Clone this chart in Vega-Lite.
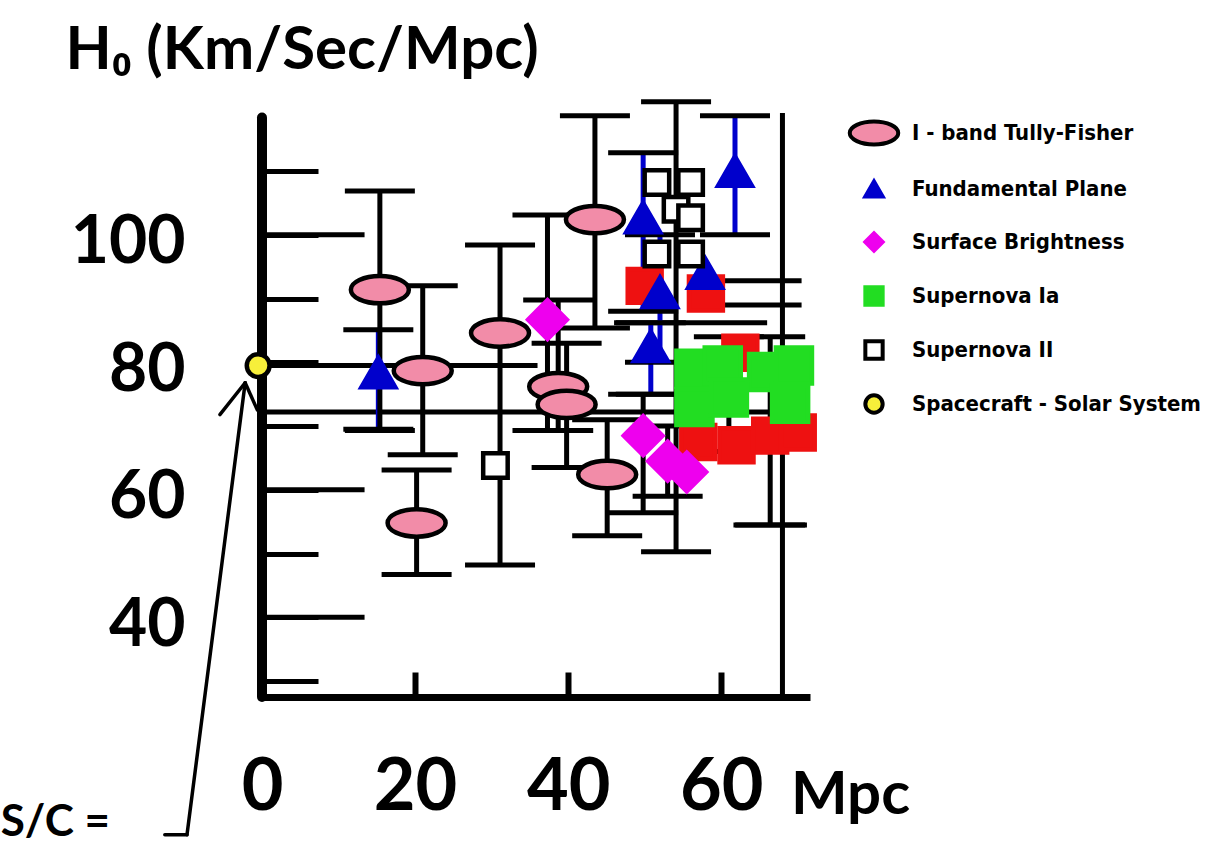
{
  "$schema": "https://vega.github.io/schema/vega-lite/v6.json",
  "width": 548,
  "height": 596,
  "autosize": {"type": "none"},
  "padding": {"left": 262, "top": 101, "right": 399, "bottom": 151},
  "background": "white",
  "config": {"view": {"stroke": null}},
  "datasets": {
    "segs": [
      {"x": 0, "x2": 13.4, "y": 40, "y2": 40},
      {"x": 0, "x2": 13.4, "y": 60, "y2": 60},
      {"x": 0, "x2": 13.4, "y": 100, "y2": 100},
      {"x": 0, "x2": 36, "y": 79.5, "y2": 79.5},
      {"x": 0, "x2": 71.6, "y": 72.2, "y2": 72.2},
      {"x": 59, "x2": 70.5, "y": 92.8, "y2": 92.8},
      {"x": 58, "x2": 70.5, "y": 89.0, "y2": 89.0},
      {"x": 46, "x2": 66, "y": 86.2, "y2": 86.2},
      {"x": 61.6, "x2": 71.2, "y": 54.5, "y2": 54.5},
      {"x": 68, "x2": 68, "y": 27.5, "y2": 119.1}
    ],
    "axisline": [
      {"x": 0, "x2": 0, "y": 27.5, "y2": 118.4}
    ],
    "arrow": [
      {"x": -12.7, "x2": -9.8, "y": 5.9, "y2": 5.9},
      {"x": -9.8, "x2": -2.2, "y": 5.9, "y2": 76.8},
      {"x": -2.2, "x2": -5.5, "y": 76.8, "y2": 71.8},
      {"x": -2.2, "x2": -0.6, "y": 76.8, "y2": 72.5}
    ],
    "notes": [
      {"x": -27, "y": 7.8, "label": "S/C ="}
    ],
    "points": [
      {"series": "Other", "x": 50.0, "y": 92.0},
      {"series": "Other", "x": 58.0, "y": 90.8},
      {"series": "Other", "x": 62.5, "y": 81.5},
      {"series": "Other", "x": 57.0, "y": 67.5},
      {"series": "Other", "x": 62.0, "y": 67.0},
      {"series": "Other", "x": 66.4, "y": 68.5, "lo": 54.5, "hi": 84.0},
      {"series": "Other", "x": 70.0, "y": 69.0},
      {"series": "Supernova Ia", "x": 56.5, "y": 79.0},
      {"series": "Supernova Ia", "x": 60.2, "y": 79.5},
      {"series": "Supernova Ia", "x": 66.0, "y": 78.5},
      {"series": "Supernova Ia", "x": 69.5, "y": 79.5},
      {"series": "Supernova Ia", "x": 56.5, "y": 73.0},
      {"series": "Supernova Ia", "x": 61.0, "y": 74.5, "lo": 66.0, "hi": 84.0},
      {"series": "Supernova Ia", "x": 69.0, "y": 73.5},
      {"series": "Surface Brightness", "x": 37.3, "y": 86.7, "lo": 69.3, "hi": 103.1},
      {"series": "Surface Brightness", "x": 49.8, "y": 68.5, "lo": 56.4, "hi": 75.0},
      {"series": "Surface Brightness", "x": 53.0, "y": 64.5, "lo": 59.0, "hi": 70.0},
      {"series": "Surface Brightness", "x": 55.5, "y": 62.8},
      {"series": "Fundamental Plane", "x": 15.2, "y": 78.4, "lo": 69.5, "hi": 85.1},
      {"series": "Fundamental Plane", "x": 49.8, "y": 102.7, "lo": 88.0, "hi": 112.9},
      {"series": "Fundamental Plane", "x": 61.8, "y": 110.0, "lo": 100.0, "hi": 118.7},
      {"series": "Fundamental Plane", "x": 52.0, "y": 91.0, "lo": 80.0, "hi": 100.0},
      {"series": "Fundamental Plane", "x": 50.8, "y": 82.5, "lo": 75.0, "hi": 86.2},
      {"series": "Fundamental Plane", "x": 57.9, "y": 94.0},
      {"series": "Supernova II", "x": 30.5, "y": 63.8},
      {"series": "Supernova II", "x": 54.1, "y": 104.0, "lo": 50.3, "hi": 120.9},
      {"series": "Supernova II", "x": 51.6, "y": 108.2},
      {"series": "Supernova II", "x": 56.0, "y": 108.2},
      {"series": "Supernova II", "x": 56.0, "y": 102.7},
      {"series": "Supernova II", "x": 51.6, "y": 97.0},
      {"series": "Supernova II", "x": 56.0, "y": 97.0},
      {"series": "I - band Tully-Fisher", "x": 15.4, "y": 91.4, "lo": 69.3, "hi": 106.9},
      {"series": "I - band Tully-Fisher", "x": 21.0, "y": 78.7, "lo": 65.5, "hi": 92.0},
      {"series": "I - band Tully-Fisher", "x": 20.2, "y": 54.8, "lo": 46.7, "hi": 63.1},
      {"series": "I - band Tully-Fisher", "x": 31.1, "y": 84.6, "lo": 48.2, "hi": 98.4},
      {"series": "I - band Tully-Fisher", "x": 38.7, "y": 76.2, "lo": 69.3, "hi": 89.8},
      {"series": "I - band Tully-Fisher", "x": 39.8, "y": 73.4, "lo": 63.5, "hi": 83.0},
      {"series": "I - band Tully-Fisher", "x": 43.5, "y": 102.4, "lo": 85.4, "hi": 118.7},
      {"series": "I - band Tully-Fisher", "x": 45.1, "y": 62.4, "lo": 52.8, "hi": 71.0},
      {"series": "Spacecraft - Solar System", "x": -0.5, "y": 79.5}
    ]
  },
  "layer": [
    {
      "data": {"name": "segs"},
      "mark": {"type": "rule", "color": "black", "strokeWidth": 5},
      "encoding": {
        "x": {
          "field": "x", "type": "quantitative",
          "scale": {"domain": [0, 71.6], "nice": false, "zero": false},
          "axis": {
            "values": [0, 20, 40, 60],
            "domain": true, "domainColor": "black", "domainWidth": 7,
            "ticks": true, "tickColor": "black", "tickWidth": 6, "tickSize": -25,
            "grid": false,
            "labelFont": "Lato", "labelFontSize": 72, "labelFontWeight": "bold", "labelColor": "black",
            "labelPadding": 80, "labelFlush": false, "labelOverlap": false,
            "title": "Mpc", "titleFont": "Lato", "titleFontSize": 60, "titleFontWeight": "bold", "titleColor": "black",
            "titleX": 588, "titleY": 116, "titleAlign": "center", "titleBaseline": "alphabetic", "titleAngle": 0
          }
        },
        "x2": {"field": "x2"},
        "y": {
          "field": "y", "type": "quantitative",
          "scale": {"domain": [27.5, 121], "nice": false, "zero": false},
          "axis": {
            "values": [30, 35, 40, 45, 50, 55, 60, 65, 70, 75, 80, 85, 90, 95, 100, 105, 110, 115],
            "domain": false,
            "ticks": true, "tickColor": "black", "tickWidth": 5, "tickSize": -56,
            "labelPadding": 133,
            "labelExpr": "datum.value % 20 === 0 ? datum.label : ''",
            "grid": false,
            "labelFont": "Lato", "labelFontSize": 66, "labelFontWeight": "bold", "labelColor": "black",
            "labelOffset": 8, "labelOverlap": false, "labelFlush": false,
            "title": "H₀ (Km/Sec/Mpc)", "titleAngle": 0, "titleAlign": "left", "titleBaseline": "alphabetic",
            "titleX": -197, "titleY": -33,
            "titleFont": "Lato", "titleFontSize": 60, "titleFontWeight": "bold", "titleColor": "black"
          }
        },
        "y2": {"field": "y2"}
      }
    },
    {
      "data": {"name": "axisline"},
      "mark": {"type": "rule", "color": "black", "strokeWidth": 10, "strokeCap": "round"},
      "encoding": {
        "x": {"field": "x", "type": "quantitative"},
        "x2": {"field": "x2"},
        "y": {"field": "y", "type": "quantitative"},
        "y2": {"field": "y2"}
      }
    },
    {
      "data": {"name": "points"},
      "transform": [{"filter": {"field": "lo", "valid": true}}],
      "mark": {"type": "rule", "strokeWidth": 5},
      "encoding": {
        "x": {"field": "x", "type": "quantitative"},
        "y": {"field": "lo", "type": "quantitative"},
        "y2": {"field": "hi"},
        "color": {"condition": {"test": "datum.series === 'Fundamental Plane'", "value": "#0000cc"}, "value": "black"}
      }
    },
    {
      "data": {"name": "points"},
      "transform": [{"filter": {"field": "lo", "valid": true}}],
      "mark": {"type": "tick", "orient": "horizontal", "size": 70, "thickness": 5, "color": "black", "opacity": 1},
      "encoding": {
        "x": {"field": "x", "type": "quantitative"},
        "y": {"field": "lo", "type": "quantitative"}
      }
    },
    {
      "data": {"name": "points"},
      "transform": [{"filter": {"field": "hi", "valid": true}}],
      "mark": {"type": "tick", "orient": "horizontal", "size": 70, "thickness": 5, "color": "black", "opacity": 1},
      "encoding": {
        "x": {"field": "x", "type": "quantitative"},
        "y": {"field": "hi", "type": "quantitative"}
      }
    },
    {
      "data": {"name": "points"},
      "mark": {"type": "point", "filled": true, "opacity": 1, "strokeWidth": 4.5},
      "encoding": {
        "x": {"field": "x", "type": "quantitative"},
        "y": {"field": "y", "type": "quantitative"},
        "color": {
          "field": "series", "type": "nominal",
          "scale": {
            "domain": ["I - band Tully-Fisher", "Fundamental Plane", "Surface Brightness", "Supernova Ia", "Supernova II", "Spacecraft - Solar System", "Other"],
            "range": ["#f28ca8", "#0000cc", "#ee00ee", "#22dd22", "#ffffff", "#f7ef3a", "#ee1111"]
          },
          "legend": {
            "orient": "none", "legendX": 601, "legendY": 21,
            "title": null, "direction": "vertical",
            "values": ["I - band Tully-Fisher", "Fundamental Plane", "Surface Brightness", "Supernova Ia", "Supernova II", "Spacecraft - Solar System"],
            "labelFont": "Liberation Sans Narrow, DejaVu Sans Condensed, Roboto, sans-serif", "labelFontSize": 22, "labelFontWeight": "bold", "labelColor": "black",
            "labelLimit": 400,
            "labelOffset": 27, "rowPadding": 20, "symbolSize": 300, "symbolStrokeWidth": 4, "symbolOpacity": 1
          }
        },
        "shape": {
          "field": "series", "type": "nominal",
          "scale": {
            "domain": ["I - band Tully-Fisher", "Fundamental Plane", "Surface Brightness", "Supernova Ia", "Supernova II", "Spacecraft - Solar System", "Other"],
            "range": ["M -2.8 0 A 2.8 1.32 0 1 0 2.8 0 A 2.8 1.32 0 1 0 -2.8 0 Z", "triangle-up", "diamond", "square", "square", "circle", "square"]
          }
        },
        "stroke": {
          "field": "series", "type": "nominal",
          "scale": {
            "domain": ["I - band Tully-Fisher", "Fundamental Plane", "Surface Brightness", "Supernova Ia", "Supernova II", "Spacecraft - Solar System", "Other"],
            "range": ["#000000", "#0000cc", "#ee00ee", "#22dd22", "#000000", "#000000", "#ee1111"]
          }
        },
        "size": {"condition": [
          {"test": "datum.series === 'I - band Tully-Fisher'", "value": 429},
          {"test": "datum.series === 'Fundamental Plane'", "value": 1150},
          {"test": "datum.series === 'Surface Brightness'", "value": 1500},
          {"test": "datum.series === 'Supernova Ia'", "value": 1300},
          {"test": "datum.series === 'Supernova II'", "value": 600},
          {"test": "datum.series === 'Spacecraft - Solar System'", "value": 520}
        ], "value": 1150}
      }
    },
    {
      "data": {"name": "arrow"},
      "mark": {"type": "rule", "color": "black", "strokeWidth": 3.5, "strokeCap": "round"},
      "encoding": {
        "x": {"field": "x", "type": "quantitative"},
        "x2": {"field": "x2"},
        "y": {"field": "y", "type": "quantitative"},
        "y2": {"field": "y2"}
      }
    },
    {
      "data": {"name": "notes"},
      "mark": {"type": "text", "font": "Lato", "fontSize": 44, "fontWeight": "bold", "color": "black", "align": "center", "baseline": "middle"},
      "encoding": {
        "x": {"field": "x", "type": "quantitative"},
        "y": {"field": "y", "type": "quantitative"},
        "text": {"field": "label"}
      }
    }
  ]
}
